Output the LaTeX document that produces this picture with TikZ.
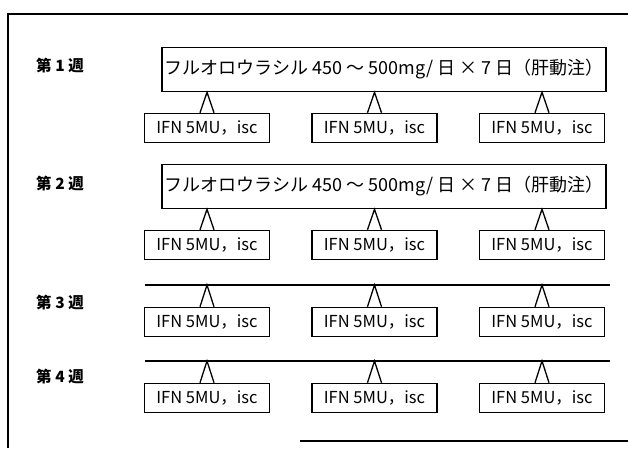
\documentclass[tikz,border=0pt]{standalone}
\usepackage{fontspec}
\setmainfont{Noto Sans CJK JP}
\usetikzlibrary{calc}
\tikzset{
  dosebox/.style={draw,line width=1.6pt,minimum width=444pt,minimum height=44pt,inner sep=0pt,font=\fontsize{18}{20}\selectfont},
  ifnbox/.style={draw,line width=1.6pt,minimum width=125pt,minimum height=29pt,inner sep=0pt,font=\fontsize{16.5}{18}\selectfont},
  weeklabel/.style={font=\fontsize{15.5}{18}\selectfont\bfseries},
  caret/.style={line width=1.3pt}
}
\newcommand{\dosetext}{フルオロウラシル 450 ～ 500mg/ 日 × 7 日（肝動注）}
\begin{document}
\begin{tikzpicture}[x=1pt,y=-1pt]
\useasboundingbox (0,0) rectangle (628,448);
% frame
\draw[line width=1.6pt] (628,14) -- (8,14) -- (8,448);
\draw[line width=1.6pt] (300,441) -- (628,441);
% week labels
\node[weeklabel] (w1) at (60,66) {第 1 週};
\node[weeklabel] (w2) at (60,184) {第 2 週};
\node[weeklabel] (w3) at (60,303) {第 3 週};
\node[weeklabel] (w4) at (60,377) {第 4 週};
% 5-FU boxes (weeks 1, 2) and plain lines (weeks 3, 4)
\node[dosebox] (d1) at (384,69.5) {\dosetext};
\node[dosebox] (d2) at (384,186.5) {\dosetext};
\coordinate (top1) at (d1.south);
\coordinate (top2) at (d2.south);
\coordinate (top3) at (145,285);
\coordinate (l3) at (610,285);
\coordinate (top4) at (145,361);
\coordinate (l4) at (610,361);
\draw[line width=1.6pt] (top3) -- (l3);
\draw[line width=1.6pt] (top4) -- (l4);
% IFN boxes
\foreach \r/\y in {1/128,2/245,3/322,4/398}{
  \foreach \c/\x in {1/207,2/374.5,3/542}{
    \node[ifnbox] (ifn\r\c) at (\x,\y) {IFN 5MU，isc};
    \draw[caret] ($(ifn\r\c.north)+(-7,0)$) -- (ifn\r\c.north |- top\r) -- ($(ifn\r\c.north)+(7,0)$);
  }
}
\end{tikzpicture}
\end{document}
